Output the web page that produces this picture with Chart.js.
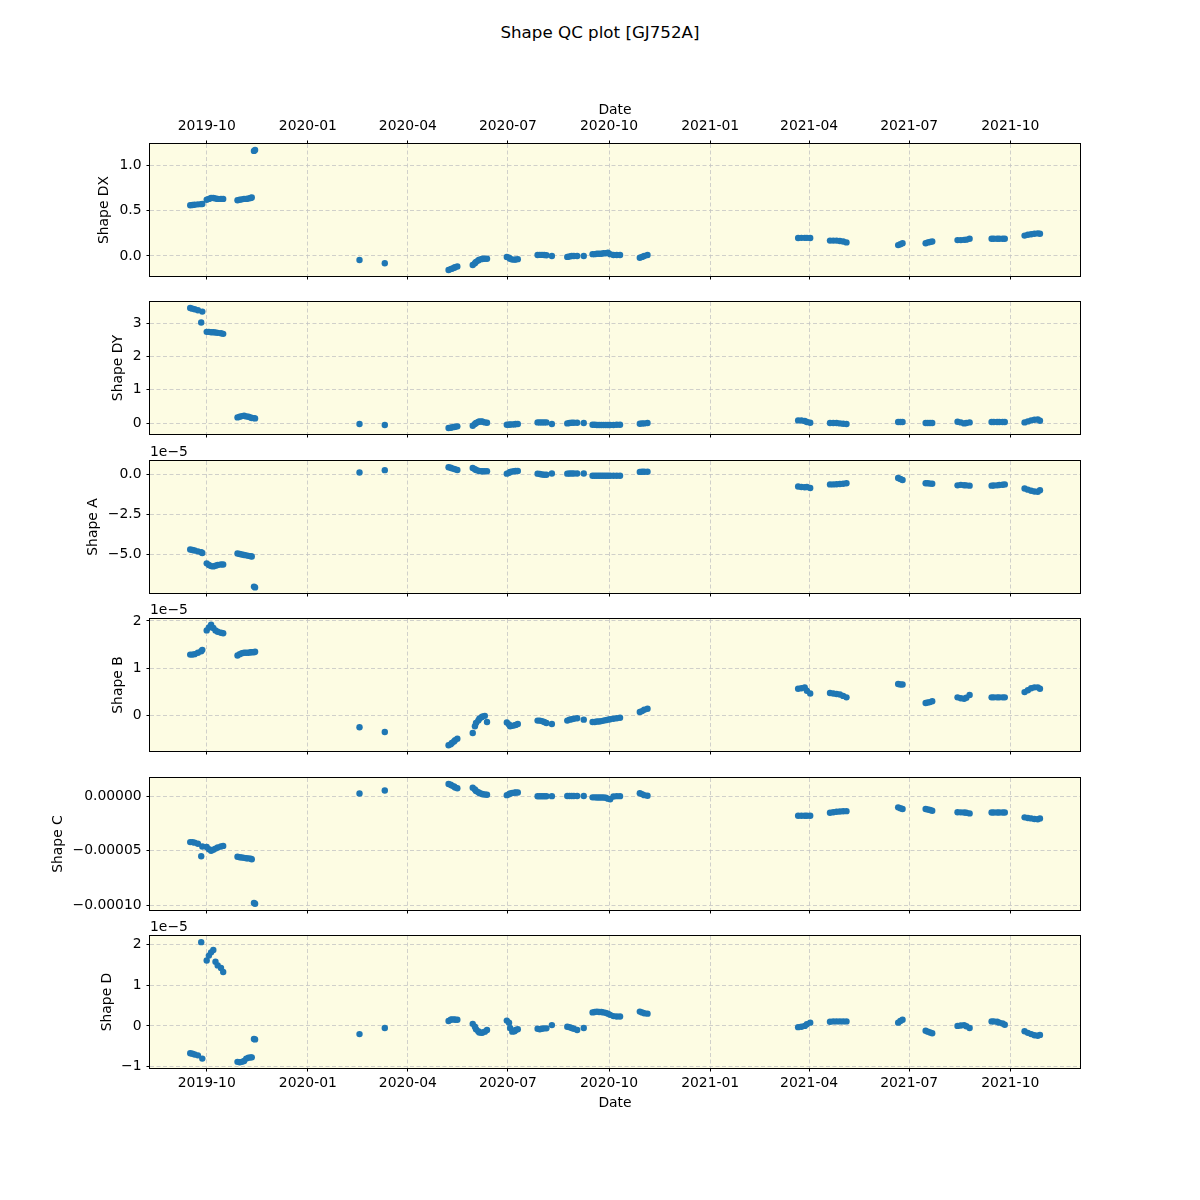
<!DOCTYPE html>
<html><head><meta charset="utf-8">
<script src="https://cdn.jsdelivr.net/npm/chart.js@4.4.0/dist/chart.umd.min.js"></script>
<style>
html,body{margin:0;padding:0;background:#fff;}
#fig{position:relative;width:1200px;height:1200px;background:#fff;overflow:hidden;}
#fig canvas{position:absolute;left:0;}
#suptitle{position:absolute;left:0;top:22px;width:1200px;text-align:center;font-family:'DejaVu Sans';font-size:16.7px;line-height:20px;color:#000;}
</style></head><body>
<div id="fig"><div id="suptitle">Shape QC plot [GJ752A]</div></div>
<script>
// ---------------- DATA ----------------
const obsDates = [
  '2019-09-16','2019-09-18','2019-09-20','2019-09-23','2019-09-26','2019-09-27',
  '2019-10-01','2019-10-03','2019-10-05','2019-10-07','2019-10-09','2019-10-11','2019-10-14','2019-10-16',
  '2019-10-29','2019-10-31','2019-11-02','2019-11-04','2019-11-06','2019-11-08','2019-11-10','2019-11-11',
  '2019-11-13','2019-11-14',
  '2020-02-17',
  '2020-03-11',
  '2020-05-08','2020-05-10','2020-05-11','2020-05-13','2020-05-14','2020-05-16',
  '2020-05-30','2020-06-01','2020-06-02','2020-06-04','2020-06-05','2020-06-07','2020-06-08','2020-06-10','2020-06-12',
  '2020-06-30','2020-07-02','2020-07-03','2020-07-05','2020-07-07','2020-07-08','2020-07-10',
  '2020-07-28','2020-07-30','2020-08-01','2020-08-03','2020-08-05',
  '2020-08-10',
  '2020-08-24','2020-08-26','2020-08-28','2020-08-30','2020-09-02',
  '2020-09-08',
  '2020-09-16','2020-09-18','2020-09-20','2020-09-22','2020-09-24','2020-09-26','2020-09-28','2020-09-30','2020-10-02','2020-10-05','2020-10-08','2020-10-11',
  '2020-10-29','2020-10-31','2020-11-02','2020-11-05',
  '2021-03-22','2021-03-25','2021-03-28','2021-03-30','2021-04-02',
  '2021-04-20','2021-04-23','2021-04-26','2021-04-29','2021-05-02','2021-05-05',
  '2021-06-21','2021-06-23','2021-06-25',
  '2021-07-16','2021-07-18','2021-07-20','2021-07-22',
  '2021-08-14','2021-08-17','2021-08-20','2021-08-22','2021-08-25',
  '2021-09-14','2021-09-16','2021-09-19','2021-09-21','2021-09-24','2021-09-26',
  '2021-10-14','2021-10-17','2021-10-20','2021-10-23','2021-10-26','2021-10-28'
];

const shapeDX = [
  0.560,0.562,0.565,0.570,0.572,0.575,
  0.620,0.630,0.640,0.640,0.635,0.630,0.630,0.630,
  0.615,0.620,0.625,0.630,0.630,0.635,0.640,0.645,
  1.160,1.170,
  -0.045,
  -0.080,
  -0.155,-0.145,-0.140,-0.130,-0.125,-0.115,
  -0.100,-0.080,-0.065,-0.050,-0.040,-0.035,-0.030,-0.030,-0.030,
  -0.010,-0.020,-0.030,-0.040,-0.040,-0.040,-0.035,
  0.010,0.012,0.012,0.010,0.008,
  0.000,
  -0.010,-0.005,0.000,0.000,0.000,
  0.000,
  0.020,0.020,0.025,0.025,0.025,0.030,0.030,0.035,0.020,0.010,0.010,0.010,
  -0.020,-0.010,0.000,0.010,
  0.198,0.200,0.200,0.200,0.198,
  0.170,0.170,0.170,0.165,0.160,0.150,
  0.120,0.130,0.140,
  0.140,0.150,0.155,0.160,
  0.175,0.175,0.178,0.180,0.190,
  0.190,0.190,0.190,0.190,0.190,0.190,
  0.225,0.235,0.240,0.245,0.250,0.245
];

const shapeDY = [
  3.47,3.45,3.43,3.40,3.03,3.36,
  2.75,2.75,2.74,2.74,2.73,2.72,2.71,2.69,
  0.17,0.19,0.21,0.22,0.20,0.19,0.17,0.15,
  0.15,0.14,
  -0.03,
  -0.06,
  -0.15,-0.14,-0.13,-0.12,-0.11,-0.10,
  -0.08,-0.03,0.00,0.03,0.05,0.05,0.04,0.02,0.01,
  -0.05,-0.05,-0.04,-0.04,-0.04,-0.03,-0.03,
  0.02,0.02,0.02,0.02,0.02,
  -0.03,
  -0.01,0.00,0.01,0.01,0.01,
  0.00,
  -0.05,-0.05,-0.06,-0.06,-0.06,-0.06,-0.06,-0.06,-0.06,-0.06,-0.05,-0.05,
  -0.02,-0.01,-0.01,0.00,
  0.08,0.08,0.06,0.03,0.01,
  0.00,0.00,0.00,-0.01,-0.02,-0.03,
  0.03,0.03,0.03,
  0.00,0.00,0.00,0.00,
  0.04,0.02,-0.01,0.00,0.02,
  0.03,0.03,0.03,0.03,0.03,0.03,
  0.02,0.05,0.08,0.10,0.11,0.07
];

// Shape A, B, C, D are listed in units of 1e-5
const UNIT_E5 = 1e-5;
const shapeA = [
  -4.68,-4.72,-4.75,-4.80,-4.86,-4.90,
  -5.55,-5.65,-5.72,-5.74,-5.70,-5.65,-5.62,-5.62,
  -4.93,-4.97,-5.00,-5.03,-5.05,-5.08,-5.10,-5.12,
  -7.00,-7.05,
  0.12,
  0.27,
  0.45,0.42,0.38,0.35,0.32,0.28,
  0.40,0.33,0.28,0.24,0.21,0.20,0.20,0.20,0.20,
  0.05,0.10,0.15,0.18,0.20,0.22,0.22,
  0.05,0.03,0.00,-0.02,-0.02,
  0.06,
  0.05,0.06,0.06,0.06,0.06,
  0.06,
  -0.08,-0.08,-0.08,-0.08,-0.08,-0.08,-0.08,-0.08,-0.08,-0.08,-0.08,-0.08,
  0.16,0.17,0.17,0.17,
  -0.75,-0.78,-0.80,-0.78,-0.85,
  -0.62,-0.62,-0.61,-0.60,-0.58,-0.55,
  -0.22,-0.28,-0.35,
  -0.55,-0.55,-0.57,-0.58,
  -0.68,-0.65,-0.67,-0.68,-0.70,
  -0.70,-0.69,-0.68,-0.66,-0.64,-0.62,
  -0.88,-0.95,-1.02,-1.06,-1.08,-0.98
];

const shapeB = [
  1.29,1.29,1.30,1.33,1.36,1.39,
  1.80,1.86,1.92,1.85,1.80,1.77,1.75,1.74,
  1.27,1.30,1.32,1.33,1.33,1.33,1.34,1.34,
  1.34,1.35,
  -0.24,
  -0.34,
  -0.62,-0.60,-0.57,-0.54,-0.51,-0.48,
  -0.36,-0.22,-0.15,-0.10,-0.06,-0.03,-0.01,0.00,-0.13,
  -0.14,-0.18,-0.22,-0.21,-0.20,-0.19,-0.17,
  -0.10,-0.10,-0.11,-0.13,-0.15,
  -0.17,
  -0.10,-0.08,-0.07,-0.06,-0.05,
  -0.08,
  -0.13,-0.13,-0.12,-0.12,-0.11,-0.10,-0.09,-0.08,-0.07,-0.06,-0.05,-0.04,
  0.08,0.10,0.13,0.15,
  0.57,0.58,0.60,0.53,0.47,
  0.48,0.47,0.46,0.45,0.42,0.39,
  0.67,0.66,0.66,
  0.27,0.28,0.29,0.31,
  0.39,0.37,0.36,0.38,0.44,
  0.39,0.39,0.39,0.39,0.39,0.39,
  0.50,0.54,0.58,0.60,0.60,0.57
];

const shapeC = [
  -4.20,-4.20,-4.25,-4.35,-5.50,-4.60,
  -4.65,-4.85,-5.00,-4.90,-4.80,-4.70,-4.60,-4.55,
  -5.55,-5.60,-5.62,-5.65,-5.68,-5.70,-5.72,-5.78,
  -9.80,-9.88,
  0.28,
  0.55,
  1.15,1.08,1.00,0.92,0.83,0.75,
  0.80,0.65,0.50,0.40,0.32,0.25,0.20,0.18,0.16,
  0.12,0.20,0.28,0.32,0.35,0.37,0.37,
  0.02,0.02,0.02,0.02,0.02,
  0.03,
  0.05,0.05,0.05,0.05,0.05,
  0.05,
  -0.08,-0.08,-0.09,-0.09,-0.10,-0.10,-0.12,-0.20,-0.25,0.00,0.03,0.03,
  0.30,0.22,0.12,0.06,
  -1.78,-1.78,-1.78,-1.78,-1.78,
  -1.50,-1.45,-1.40,-1.38,-1.36,-1.35,
  -1.00,-1.08,-1.15,
  -1.15,-1.20,-1.25,-1.32,
  -1.45,-1.46,-1.47,-1.50,-1.56,
  -1.47,-1.47,-1.47,-1.47,-1.47,-1.47,
  -1.92,-1.98,-2.02,-2.08,-2.10,-2.02
];

const shapeD = [
  -0.67,-0.68,-0.70,-0.72,2.05,-0.80,
  1.60,1.72,1.80,1.86,1.57,1.48,1.42,1.32,
  -0.88,-0.89,-0.88,-0.86,-0.80,-0.78,-0.77,-0.77,
  -0.32,-0.33,
  -0.20,
  -0.05,
  0.12,0.15,0.16,0.16,0.15,0.15,
  0.05,-0.02,-0.08,-0.13,-0.16,-0.17,-0.16,-0.14,-0.10,
  0.13,0.08,-0.05,-0.14,-0.13,-0.10,-0.08,
  -0.07,-0.08,-0.07,-0.06,-0.06,
  0.02,
  -0.02,-0.03,-0.05,-0.07,-0.10,
  -0.05,
  0.33,0.34,0.35,0.34,0.34,0.33,0.32,0.30,0.27,0.24,0.23,0.23,
  0.35,0.33,0.31,0.30,
  -0.03,-0.02,0.00,0.04,0.08,
  0.10,0.11,0.11,0.11,0.11,0.11,
  0.08,0.12,0.15,
  -0.12,-0.14,-0.16,-0.18,
  0.00,0.01,0.02,-0.01,-0.05,
  0.11,0.11,0.10,0.08,0.06,0.03,
  -0.13,-0.17,-0.20,-0.23,-0.24,-0.22
];

// x axis
const xRange = ['2019-08-10T10:00:00Z', '2021-12-03T10:00:00Z'];
const xTickDates = ['2019-10-01','2020-01-01','2020-04-01','2020-07-01','2020-10-01','2021-01-01','2021-04-01','2021-07-01','2021-10-01'];
const xTickLabels = ['2019-10','2020-01','2020-04','2020-07','2020-10','2021-01','2021-04','2021-07','2021-10'];

// y axes
const dxTicks = [0, 0.5, 1.0];            const dxTickLabels = ['0.0','0.5','1.0'];
const dyTicks = [0, 1, 2, 3];             const dyTickLabels = ['0','1','2','3'];
const aTicks  = [0, -2.5e-5, -5e-5];      const aTickLabels  = ['0.0','\u22122.5','\u22125.0'];
const bTicks  = [0, 1e-5, 2e-5];          const bTickLabels  = ['0','1','2'];
const cTicks  = [0, -5e-5, -1e-4];        const cTickLabels  = ['0.00000','\u22120.00005','\u22120.00010'];
const dTicks  = [-1e-5, 0, 1e-5, 2e-5];   const dTickLabels  = ['\u22121','0','1','2'];

const yRanges = {
  DX: [-0.221, 1.236],
  DY: [-0.33, 3.65],
  A:  [-7.40e-5, 0.84e-5],
  B:  [-0.74e-5, 2.04e-5],
  C:  [-10.45e-5, 1.70e-5],
  D:  [-1.03e-5, 2.20e-5]
};

// ---------------- STYLE / LAYOUT ----------------
const FONT = {family: 'DejaVu Sans', size: 13.9, weight: 'normal'};
const FACE = '#fdfce3';
const GRID = '#c4c4c4';
const MARK = '#1f77b4';
const PLOT_LEFT = 150, PLOT_RIGHT = 1080, PLOT_H = 132;
const PLOT_TOPS = [144, 302, 461, 619, 778, 936];

const panels = [
  {key:'DX', values: shapeDX, unit: 1,       ticks: dxTicks, labels: dxTickLabels, yTitle:'Shape DX', yTitleX:104, offsetText:null},
  {key:'DY', values: shapeDY, unit: 1,       ticks: dyTicks, labels: dyTickLabels, yTitle:'Shape DY', yTitleX:118, offsetText:null},
  {key:'A',  values: shapeA,  unit: UNIT_E5, ticks: aTicks,  labels: aTickLabels,  yTitle:'Shape A',  yTitleX:93,  offsetText:'1e\u22125'},
  {key:'B',  values: shapeB,  unit: UNIT_E5, ticks: bTicks,  labels: bTickLabels,  yTitle:'Shape B',  yTitleX:118, offsetText:'1e\u22125'},
  {key:'C',  values: shapeC,  unit: UNIT_E5, ticks: cTicks,  labels: cTickLabels,  yTitle:'Shape C',  yTitleX:58,  offsetText:null},
  {key:'D',  values: shapeD,  unit: UNIT_E5, ticks: dTicks,  labels: dTickLabels,  yTitle:'Shape D',  yTitleX:107, offsetText:'1e\u22125'}
];

const xMin = Date.parse(xRange[0]), xMax = Date.parse(xRange[1]);
const xTickValues = xTickDates.map(d => Date.parse(d));

const framePlugin = {
  id: 'frame',
  beforeDraw(chart) {
    const {ctx, chartArea: a} = chart;
    ctx.save();
    ctx.fillStyle = FACE;
    ctx.fillRect(a.left, a.top, a.right - a.left, a.bottom - a.top);
    ctx.restore();
  },
  afterDraw(chart) {
    const {ctx, chartArea: a} = chart;
    ctx.save();
    ctx.strokeStyle = '#000';
    ctx.lineWidth = 1;
    ctx.strokeRect(a.left - 0.5, a.top - 0.5, a.right - a.left + 1, a.bottom - a.top + 1);
    ctx.restore();
  }
};

const fig = document.getElementById('fig');

panels.forEach((p, idx) => {
  const isFirst = idx === 0;
  const isLast = idx === panels.length - 1;
  const plotTop = PLOT_TOPS[idx];
  const bottomH = isLast ? 44 : 4;
  const lh = FONT.size * 1.2;
  const padL = p.yTitleX - lh / 2;
  let canvasTop, padTop, canvasH;
  if (isFirst) { canvasTop = 0; padTop = 0; canvasH = plotTop + PLOT_H + bottomH; }
  else { canvasTop = plotTop - 20; padTop = p.offsetText ? 20 - lh : 20; canvasH = 20 + PLOT_H + bottomH; }

  const cv = document.createElement('canvas');
  cv.width = 1200; cv.height = canvasH;
  cv.style.top = canvasTop + 'px';
  cv.style.width = '1200px'; cv.style.height = canvasH + 'px';
  fig.appendChild(cv);

  const points = obsDates.map((d, i) => ({x: Date.parse(d), y: p.values[i] * p.unit}));
  const [yMin, yMax] = yRanges[p.key];

  const gridCommon = {color: GRID, lineWidth: 0.8, drawTicks: true, tickLength: 3.5, tickColor: '#000', tickWidth: 1};
  const noPad = s => { s.paddingTop = 0; s.paddingBottom = 0; s.paddingLeft = 0; s.paddingRight = 0; };

  const scales = {
    x: {
      type: 'linear', position: 'bottom', min: xMin, max: xMax,
      afterBuildTicks: s => { s.ticks = xTickValues.map(v => ({value: v})); },
      afterFit: s => { s.height = bottomH; noPad(s); },
      ticks: {display: isLast, autoSkip: false, maxRotation: 0, padding: 4, color: '#000', font: FONT,
              callback: (v, i) => xTickLabels[i]},
      grid: Object.assign({drawOnChartArea: true}, gridCommon),
      border: {display: false, dash: [4, 2.5]},
      title: {display: isLast, text: 'Date', color: '#000', font: FONT, padding: {top: 0, bottom: 0}}
    },
    y: {
      type: 'linear', position: 'left', min: yMin, max: yMax,
      afterBuildTicks: s => { s.ticks = p.ticks.map(v => ({value: v})); },
      afterFit: s => { s.width = PLOT_LEFT - padL; noPad(s); },
      ticks: {padding: 4.9, color: '#000', font: FONT, callback: (v, i) => p.labels[i]},
      grid: Object.assign({drawOnChartArea: true}, gridCommon),
      border: {display: false, dash: [4, 2.5]},
      title: {display: true, text: p.yTitle, color: '#000', font: FONT, padding: 0}
    }
  };
  if (isFirst) {
    scales.xTop = {
      type: 'linear', position: 'top', min: xMin, max: xMax,
      afterBuildTicks: s => { s.ticks = xTickValues.map(v => ({value: v})); },
      afterFit: s => { s.height = plotTop; noPad(s); },
      ticks: {display: true, autoSkip: false, maxRotation: 0, padding: 6, color: '#000', font: FONT,
              callback: (v, i) => xTickLabels[i]},
      grid: Object.assign({drawOnChartArea: false}, gridCommon),
      border: {display: false},
      title: {display: true, text: 'Date', color: '#000', font: FONT, padding: {top: 110 - lh / 2, bottom: 0}}
    };
  }

  new Chart(cv, {
    type: 'scatter',
    data: {datasets: [{
      label: p.yTitle, data: points,
      backgroundColor: MARK, borderColor: MARK, borderWidth: 0,
      pointRadius: 3.2, pointHoverRadius: 3.2
    }]},
    options: {
      responsive: false, animation: false, events: [],
      layout: {padding: {left: padL, right: 1200 - PLOT_RIGHT, top: padTop, bottom: 0}},
      scales: scales,
      plugins: {
        legend: {display: false},
        tooltip: {enabled: false},
        title: {display: !!p.offsetText, text: p.offsetText || '', position: 'top', align: 'start',
                fullSize: false, color: '#000', font: FONT, padding: 0}
      }
    },
    plugins: [framePlugin]
  });
});
</script>
</body></html>
